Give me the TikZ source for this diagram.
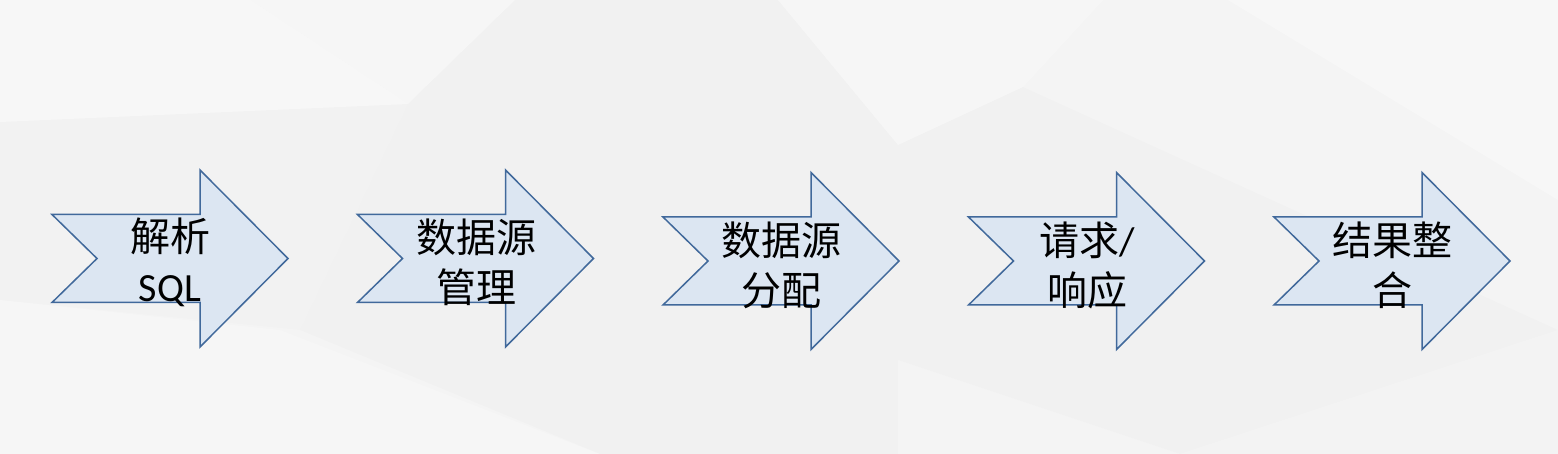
\documentclass[tikz,border=0pt]{standalone}
\usepackage{fontspec}
\setmainfont{Carlito}
\newfontfamily\cjk{Noto Sans CJK SC}
\definecolor{arrowfill}{HTML}{DCE6F2}
\definecolor{arrowline}{HTML}{41699B}
\definecolor{bgbase}{HTML}{F4F4F4}
\begin{document}
\begin{tikzpicture}[x=1pt,y=-1pt,
  chev/.style={fill=arrowfill,draw=arrowline,line width=1.5pt,line join=miter},
  lbl/.style={align=center,font=\fontsize{40}{50}\selectfont,inner sep=0pt,text=black},
  bgA/.style={fill=white,fill opacity=0.35,draw=none},
  bgB/.style={fill=black,fill opacity=0.012,draw=none}]
\useasboundingbox (0,0) rectangle (1558,454);
% background low-poly pattern
\fill[bgbase] (0,0) rectangle (1558,454);
\path[bgA] (0,0) -- (250,0) -- (408,104) -- (0,122) -- cycle;
\path[bgA,fill opacity=0.2] (250,0) -- (515,0) -- (408,104) -- cycle;
\path[bgA,fill opacity=0.25] (778,0) -- (1103,0) -- (1023,87) -- (898,145) -- cycle;
\path[bgA,fill opacity=0.3] (1228,0) -- (1558,0) -- (1558,200) -- cycle;
\path[bgB] (408,104) -- (515,0) -- (778,0) -- (898,145) -- (898,454) -- (600,454) -- (300,330) -- cycle;
\path[bgA,fill opacity=0.2] (0,300) -- (280,330) -- (600,454) -- (0,454) -- cycle;
\path[bgB] (898,145) -- (1023,87) -- (1558,330) -- (1558,454) -- (1180,454) -- (898,360) -- cycle;
\path[bgA,fill opacity=0.2] (1180,454) -- (1558,330) -- (1558,454) -- cycle;
\path[bgB,fill opacity=0.008] (0,122) -- (408,104) -- (300,330) -- (0,300) -- cycle;
% arrows
\foreach \i/\c in {0/258.5,1/258.5,2/261,3/261,4/261}{
  \pgfmathsetmacro\xo{52+305.5*\i}
  \draw[chev] (\xo,\c-44) -- (\xo+148,\c-44) -- (\xo+148,\c-88.5) -- (\xo+236,\c)
    -- (\xo+148,\c+88.5) -- (\xo+148,\c+44) -- (\xo,\c+44) -- (\xo+45,\c) -- cycle;
}
% labels
\node[lbl] (t1) at (170,262) {{\cjk 解析}\\SQL};
\node[lbl] (t2) at (476,262) {{\cjk 数据源}\\{\cjk 管理}};
\node[lbl] (t3) at (781,265) {{\cjk 数据源}\\{\cjk 分配}};
\node[lbl] (t4) at (1087,265) {{\cjk 请求}/\\{\cjk 响应}};
\node[lbl] (t5) at (1392,265) {{\cjk 结果整}\\{\cjk 合}};
\end{tikzpicture}
\end{document}
